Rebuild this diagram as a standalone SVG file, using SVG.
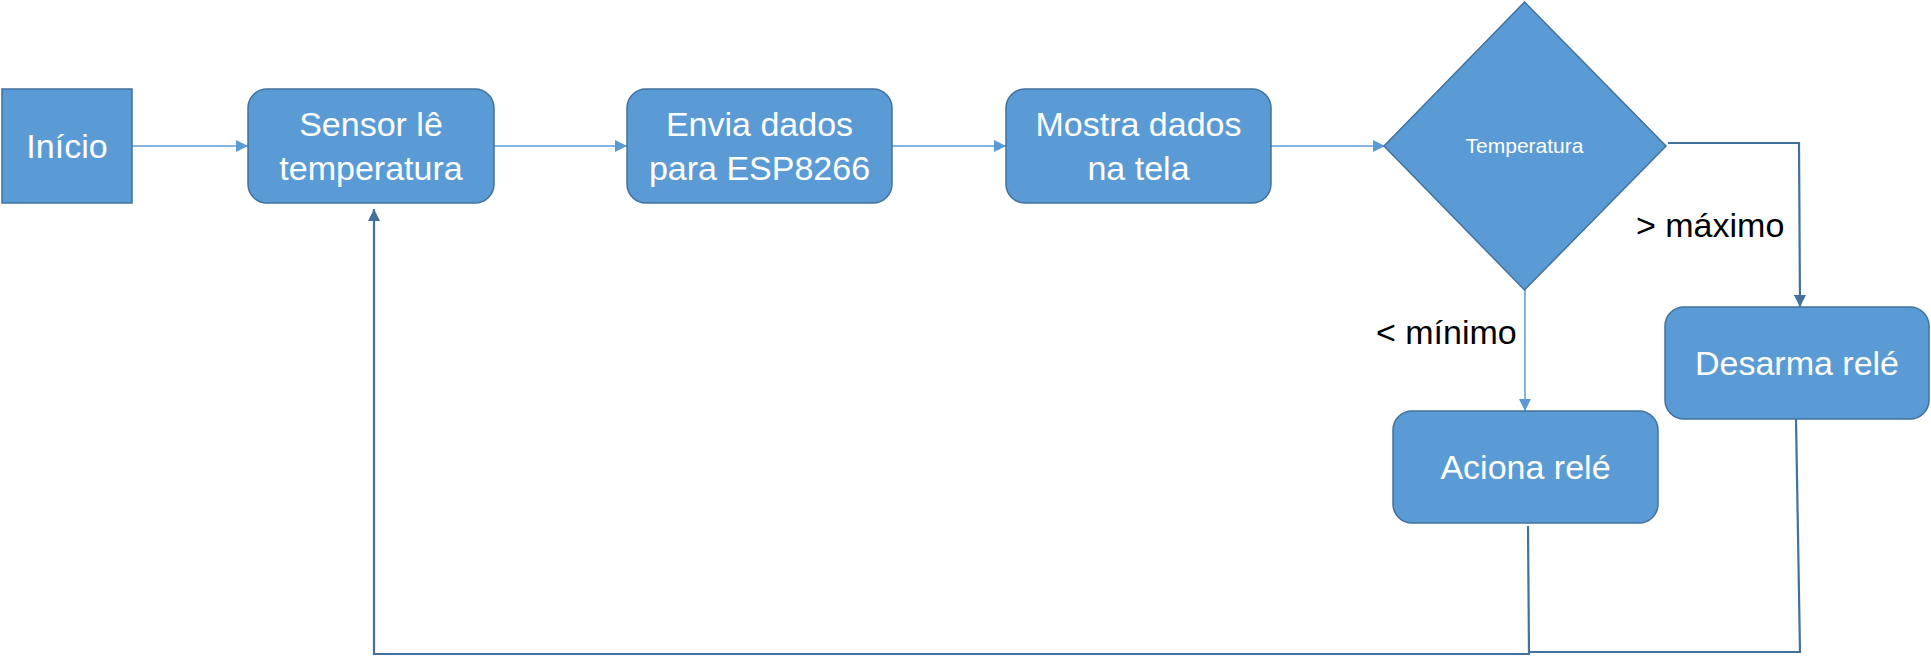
<svg xmlns="http://www.w3.org/2000/svg" width="1931" height="657" viewBox="0 0 1931 657">
  <style>
    .node { fill: #5B9BD5; stroke: #41719C; stroke-width: 1.5; }
    .t { fill: #FFFFFF; font-family: "Liberation Sans", Arial, sans-serif; font-size: 34px; text-anchor: middle; }
    .ts { fill: #FFFFFF; font-family: "Liberation Sans", Arial, sans-serif; font-size: 21px; text-anchor: middle; }
    .lbl { fill: #000000; font-family: "Liberation Sans", Arial, sans-serif; font-size: 34px; }
    .cl { fill: none; stroke: #5B9BD5; stroke-width: 1.5; }
    .cd { fill: none; stroke: #41719C; stroke-width: 2.2; }
  </style>
  <defs>
    <marker id="al" markerUnits="userSpaceOnUse" markerWidth="12" markerHeight="12" viewBox="0 0 12 12" refX="12" refY="6" orient="auto">
      <path d="M0,0 L12,6 L0,12 Z" fill="#5B9BD5"/>
    </marker>
    <marker id="ad" markerUnits="userSpaceOnUse" markerWidth="12" markerHeight="12" viewBox="0 0 12 12" refX="12" refY="6" orient="auto">
      <path d="M0,0 L12,6 L0,12 Z" fill="#41719C"/>
    </marker>
  </defs>

  <g id="connectors">
    <path class="cl" d="M132,146 L248,146" marker-end="url(#al)"/>
    <path class="cl" d="M494,146 L627,146" marker-end="url(#al)"/>
    <path class="cl" d="M892,146 L1006,146" marker-end="url(#al)"/>
    <path class="cl" d="M1271,146 L1385,146" marker-end="url(#al)"/>
    <path class="cd" d="M1668,143 L1799,143 L1800,307" marker-end="url(#ad)"/>
    <path class="cl" d="M1525,290 L1525,411" marker-end="url(#al)"/>
    <path class="cd" d="M1528,526 L1529,654 L374,654 L374,209" marker-end="url(#ad)"/>
    <path class="cd" d="M1796,419 L1800,652 L1529,652"/>
  </g>

  <g id="inicio">
    <rect class="node" x="2" y="89" width="130" height="114"/>
    <text class="t" x="67" y="158">Início</text>
  </g>

  <g id="sensor">
    <rect class="node" x="248" y="89" width="246" height="114" rx="19" ry="19"/>
    <text class="t" x="371" y="136">Sensor lê</text>
    <text class="t" x="371" y="180">temperatura</text>
  </g>

  <g id="envia">
    <rect class="node" x="627" y="89" width="265" height="114" rx="19" ry="19"/>
    <text class="t" x="759.5" y="136">Envia dados</text>
    <text class="t" x="759.5" y="180">para ESP8266</text>
  </g>

  <g id="mostra">
    <rect class="node" x="1006" y="89" width="265" height="114" rx="19" ry="19"/>
    <text class="t" x="1138.5" y="136">Mostra dados</text>
    <text class="t" x="1138.5" y="180">na tela</text>
  </g>

  <g id="decisao">
    <polygon class="node" points="1524.5,2 1666,146 1524.5,290 1384,146"/>
    <text class="ts" x="1524.5" y="153">Temperatura</text>
  </g>

  <g id="desarma">
    <rect class="node" x="1665" y="307" width="264" height="112" rx="19" ry="19"/>
    <text class="t" x="1797" y="375">Desarma relé</text>
  </g>

  <g id="aciona">
    <rect class="node" x="1393" y="411" width="265" height="112" rx="19" ry="19"/>
    <text class="t" x="1525.5" y="479">Aciona relé</text>
  </g>

  <g id="labels">
    <text class="lbl" x="1636" y="237">&gt; máximo</text>
    <text class="lbl" x="1376" y="344">&lt; mínimo</text>
  </g>
</svg>
